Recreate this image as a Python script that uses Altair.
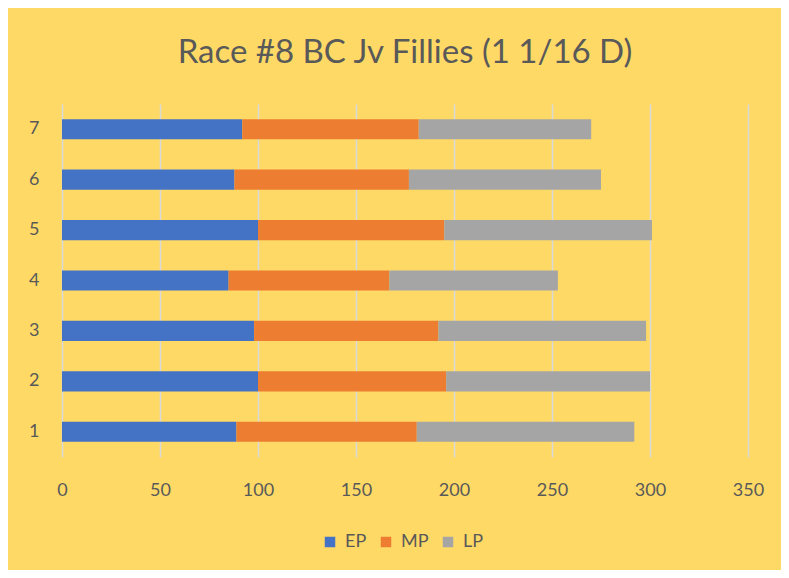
import altair as alt
import pandas as pd

races = ["1", "2", "3", "4", "5", "6", "7"]
ep = [89, 100, 98, 85, 100, 88, 92]
mp = [92, 96, 94, 82, 95, 89, 90]
lp = [111, 104, 106, 86, 106, 98, 88]
series = ["EP", "MP", "LP"]
colors = ["#4472C4", "#ED7D31", "#A5A5A5"]
x_ticks = [0, 50, 100, 150, 200, 250, 300, 350]

rows = []
for i, r in enumerate(races):
    for k, (s, vals) in enumerate(zip(series, [ep, mp, lp])):
        rows.append({"race": r, "series": s, "value": vals[i], "order": k})
df = pd.DataFrame(rows)

FONT = "Lato"
TXT = "#595959"

chart = alt.Chart(df).mark_bar().encode(
    x=alt.X("value:Q", stack="zero",
            scale=alt.Scale(domain=[0, 350], nice=False),
            axis=alt.Axis(values=x_ticks, title=None, grid=True, gridColor="#D9D9D9",
                          gridWidth=1.5, domain=False, ticks=False, labelPadding=24,
                          labelFlush=False,
                          labelFontSize=18, labelColor=TXT, labelFont=FONT)),
    y=alt.Y("race:N", sort=races[::-1],
            scale=alt.Scale(paddingInner=0.6, paddingOuter=0.3),
            axis=alt.Axis(title=None, grid=False, domain=False, ticks=False, labelPadding=23,
                          labelFontSize=18, labelColor=TXT, labelFont=FONT, labelAngle=0)),
    color=alt.Color("series:N", scale=alt.Scale(domain=series, range=colors),
                    legend=alt.Legend(title=None, orient="none", legendX=259, legendY=429,
                                      direction="horizontal", symbolType="square",
                                      symbolSize=110, symbolStrokeWidth=0,
                                      labelFontSize=18, labelColor=TXT, labelFont=FONT,
                                      columnPadding=10, labelOffset=6)),
    order=alt.Order("order:Q"),
).properties(
    width=686, height=353,
    title=alt.Title("Race #8 BC Jv Fillies (1 1/16 D)", fontSize=33, font=FONT,
                    color=TXT, fontWeight="normal", anchor="middle", offset=34),
    padding={"left": 54, "top": 96, "right": 33, "bottom": 113},
    autosize=alt.AutoSizeParams(type="none"),
).configure(background="#FFD966").configure_view(stroke=None)

chart.save("out.html", embed_options={"renderer": "svg", "actions": False})
